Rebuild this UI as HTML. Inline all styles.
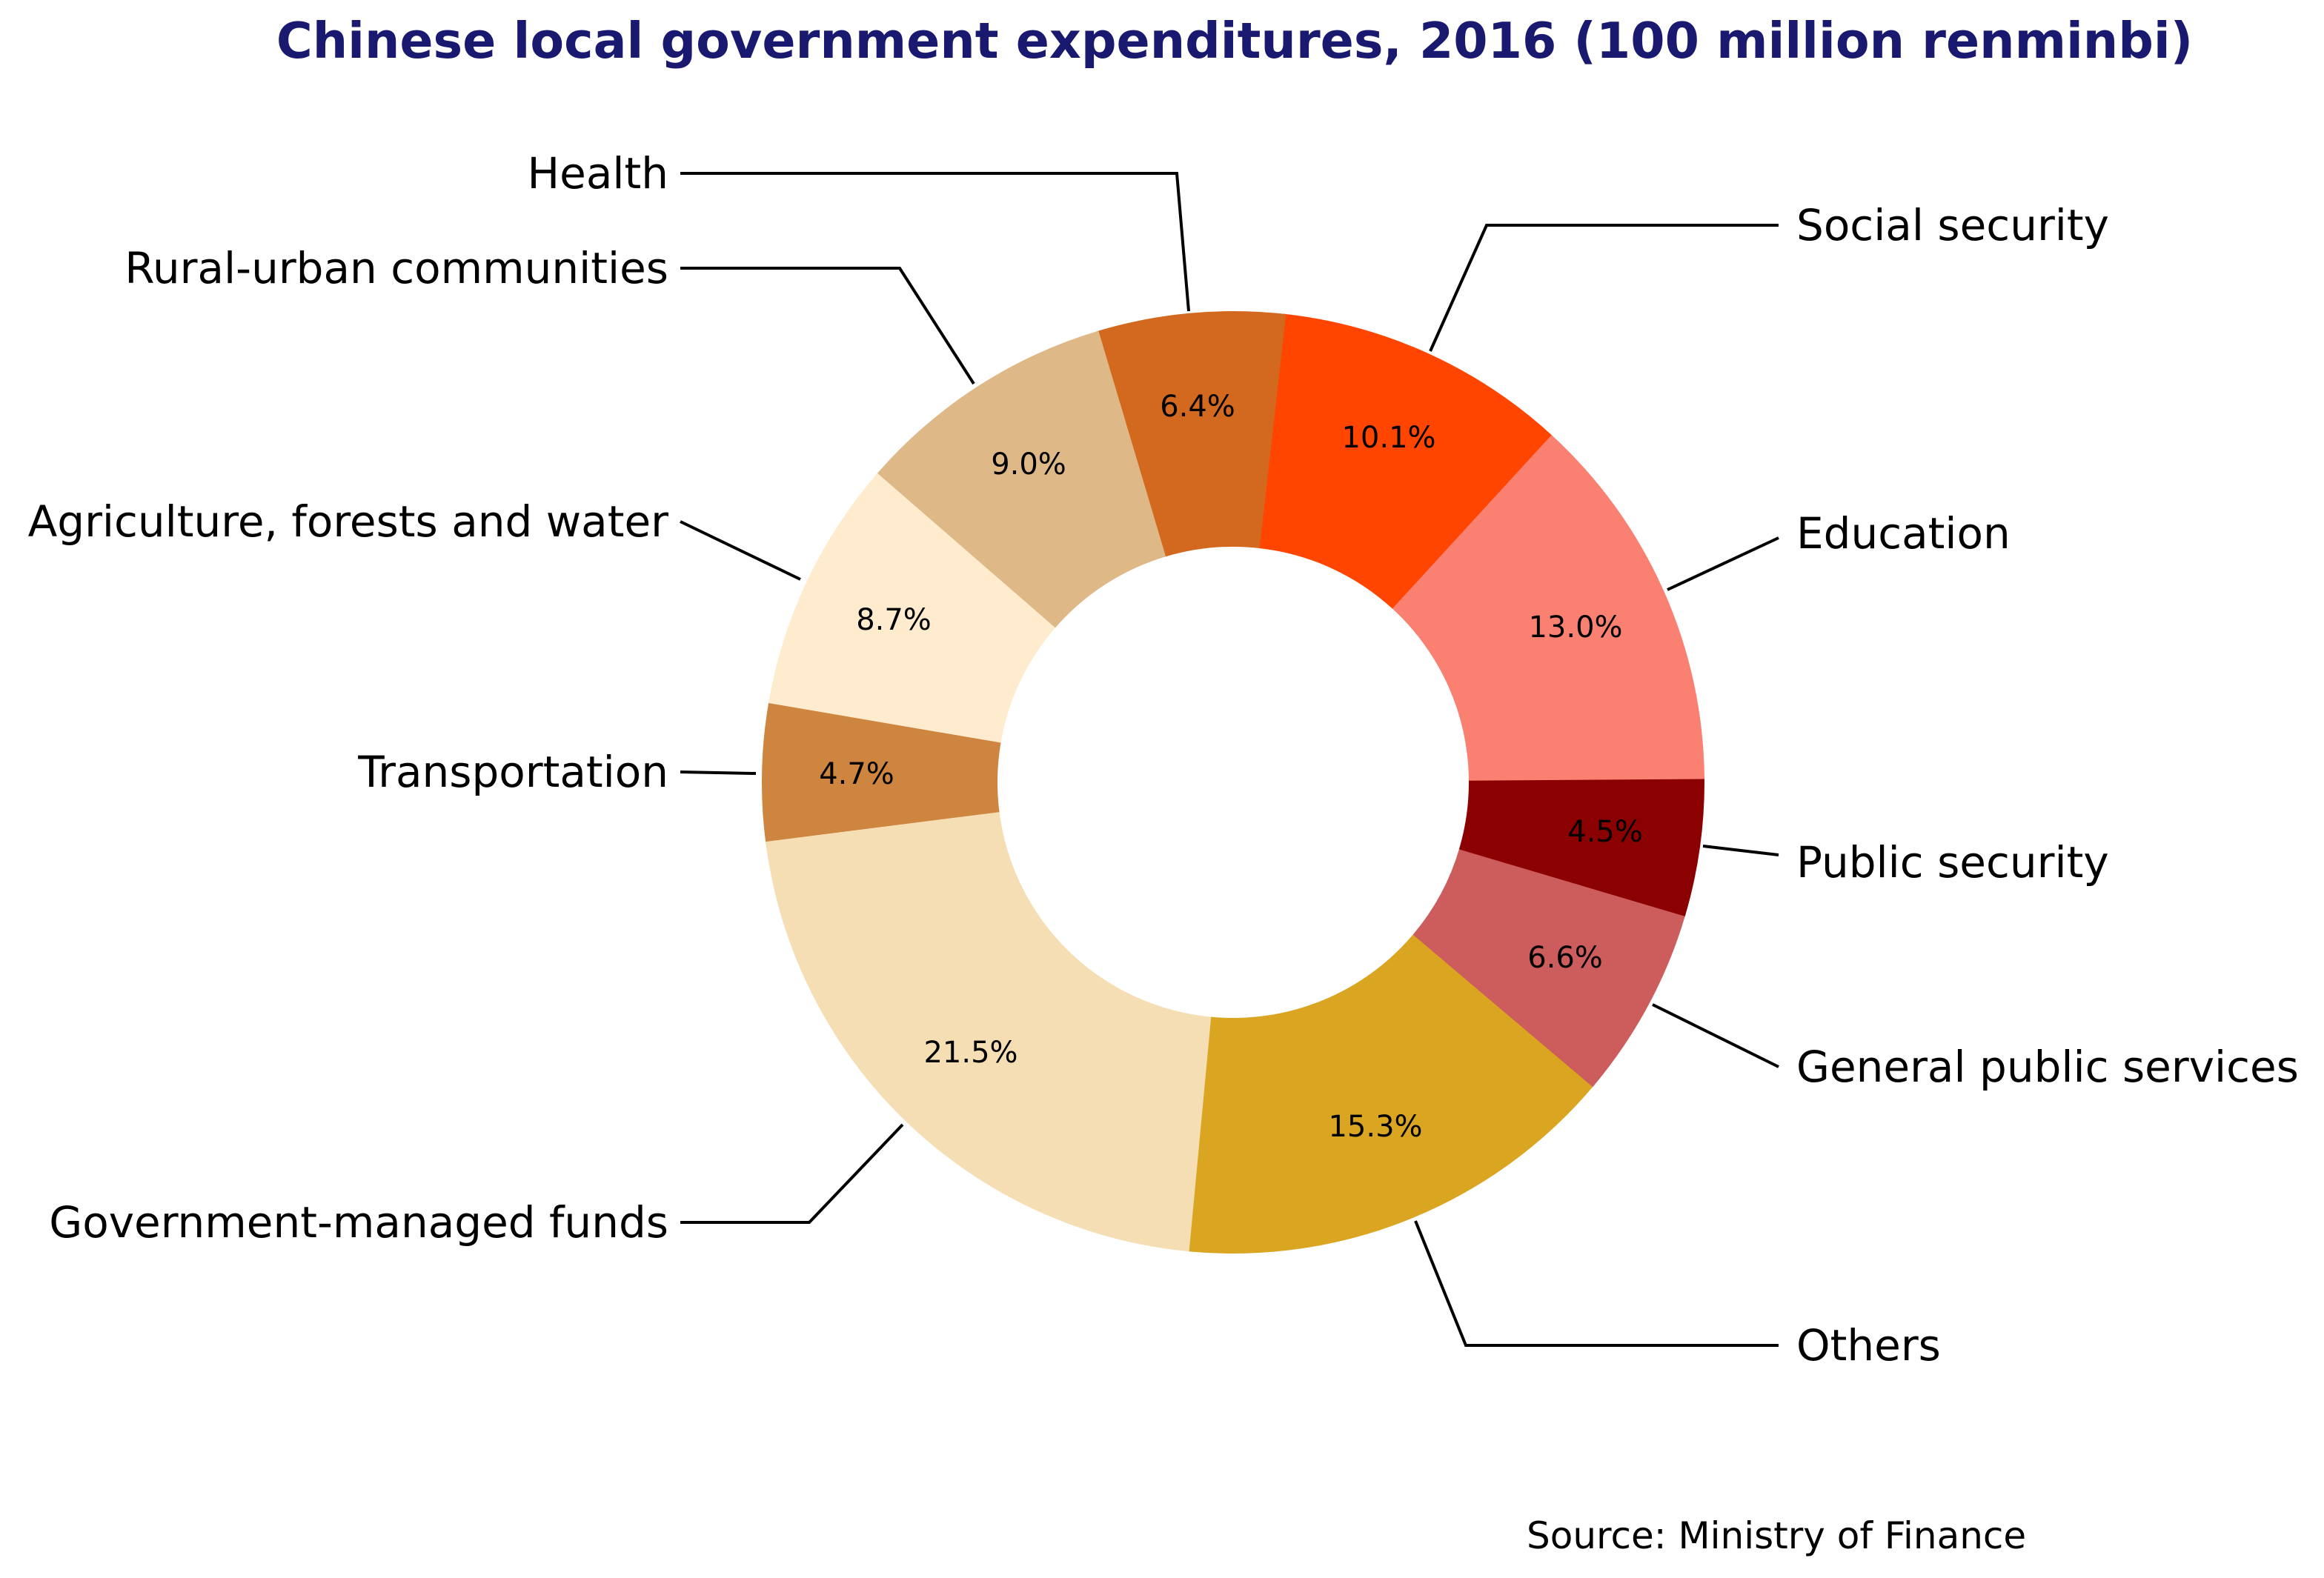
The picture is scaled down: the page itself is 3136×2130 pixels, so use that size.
<!DOCTYPE html>
<html><head><meta charset="utf-8"><style>html,body{margin:0;padding:0;background:#fff}svg{display:block}</style></head>
<body>
<svg id="s" xmlns="http://www.w3.org/2000/svg" width="3136" height="2130" viewBox="0 0 1568 1065" font-family="DejaVu Sans, Liberation Sans, sans-serif">
<rect width="1568" height="1065" fill="#fff"/>
<g id="w"></g>
<text x="833" y="39" text-anchor="middle" font-size="33.3" font-weight="bold" fill="#191970">Chinese local government expenditures, 2016 (100 million renminbi)</text>
<g fill="none" stroke="#000" stroke-width="2">
<polyline points="459,117 794,117 802,210"/>
<polyline points="459,181 607,181 657,259"/>
<polyline points="459,352 540,391"/>
<polyline points="459,521 510,522"/>
<polyline points="459,825 546,825 609,759"/>
<polyline points="1200,152 1003,152 965,237"/>
<polyline points="1200,363 1125,398"/>
<polyline points="1200,577 1149,571"/>
<polyline points="1200,720 1115,678"/>
<polyline points="1200,908 989,908 955,824"/>
</g>
<g font-size="29" fill="#000">
<text x="451" y="127" text-anchor="end">Health</text>
<text x="451" y="191" text-anchor="end">Rural-urban communities</text>
<text x="451" y="362" text-anchor="end">Agriculture, forests and water</text>
<text x="451" y="531" text-anchor="end">Transportation</text>
<text x="451" y="835" text-anchor="end">Government-managed funds</text>
<text x="1212" y="162">Social security</text>
<text x="1212" y="370">Education</text>
<text x="1212" y="592">Public security</text>
<text x="1212" y="730">General public services</text>
<text x="1212" y="918">Others</text>
</g>
<g font-size="20" fill="#000" text-anchor="middle">
<text x="808" y="281">6.4%</text>
<text x="694" y="320">9.0%</text>
<text x="603" y="425">8.7%</text>
<text x="578" y="529">4.7%</text>
<text x="655" y="717">21.5%</text>
<text x="937" y="302">10.1%</text>
<text x="1063" y="430">13.0%</text>
<text x="1083" y="568">4.5%</text>
<text x="1056" y="653">6.6%</text>
<text x="928" y="767">15.3%</text>
</g>
<text x="1030" y="1045" font-size="25" fill="#000">Source: Ministry of Finance</text>
</svg>
<script>
(function(){
var cx=832,cy=528,R=318,r=159;
var d=[[13.0,"#FA8072"],[10.1,"#FF4500"],[6.4,"#D2691E"],[9.0,"#DEB887"],[8.7,"#FFEBCD"],[4.7,"#CD853F"],[21.5,"#F5DEB3"],[15.3,"#DAA520"],[6.6,"#CD5C5C"],[4.5,"#8B0000"]];
var a=0.4,g=document.getElementById("w"),ns="http://www.w3.org/2000/svg",first=null;
function p(rad,ang){var t=ang*Math.PI/180;return [cx+rad*Math.cos(t),cy-rad*Math.sin(t)];}
d.forEach(function(x,i){
var b=a+x[0]*3.6+(i<d.length-1?0.3:1.0),l=(b-a)>180?1:0;
var p1=p(R,a),p2=p(R,b),p3=p(r,b),p4=p(r,a);
var path="M"+p1+" A"+R+","+R+" 0 "+l+" 0 "+p2+" L"+p3+" A"+r+","+r+" 0 "+l+" 1 "+p4+" Z";
var e=document.createElementNS(ns,"path");e.setAttribute("d",path);e.setAttribute("fill",x[1]);
if(i==0)first=e;else g.appendChild(e);
a=b-0.3;});
g.appendChild(first);
})();
</script>
</body></html>
